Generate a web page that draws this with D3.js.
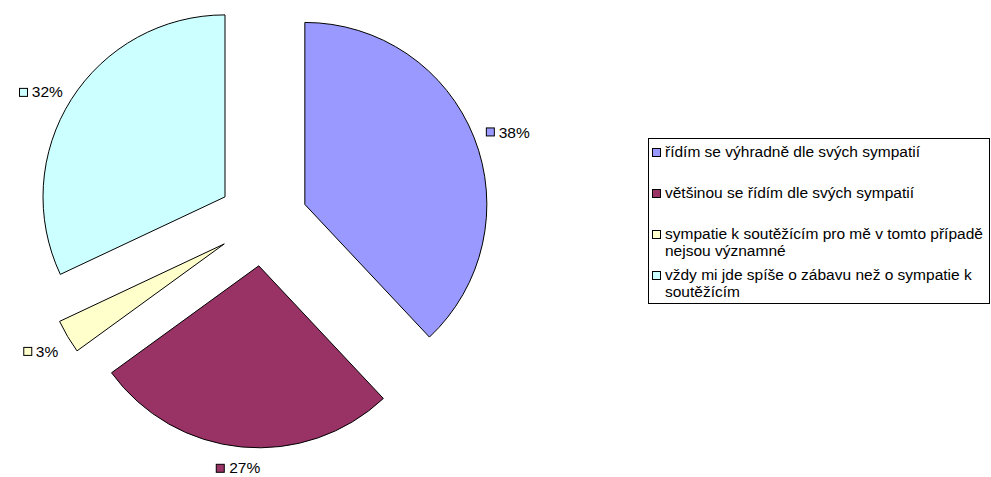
<!DOCTYPE html>
<html>
<head>
<meta charset="utf-8">
<script src="https://cdn.jsdelivr.net/npm/d3@7"></script>
<style>
  html, body { margin: 0; padding: 0; background: #fff; }
  svg { display: block; font-family: "Liberation Sans", Arial, sans-serif; }
</style>
</head>
<body>
<svg id="chart" width="991" height="477"></svg>
<script>
const categories = [
  "řídím se výhradně dle svých sympatií",
  "většinou se řídím dle svých sympatií",
  "sympatie k soutěžícím pro mě v tomto případě nejsou významné",
  "vždy mi jde spíše o zábavu než o sympatie k soutěžícím"
];
const values = [38, 27, 3, 32];
const colors = ["#9999FF", "#993366", "#FFFFCC", "#CCFFFF"];

const W = 991, H = 477;
const cx = 263, cy = 221, R = 182, explode = 45;
const labelFont = 15.5, legendFont = 15.5;

const svg = d3.select("#chart");
const total = d3.sum(values);
const fmt = d3.format(".0%");

const pie = d3.pie().sort(null).value(d => d)(values);
const arc = d3.arc().innerRadius(0).outerRadius(R);

const g = svg.append("g").attr("transform", `translate(${cx},${cy})`);

pie.forEach((p, i) => {
  const mid = (p.startAngle + p.endAngle) / 2;
  const sx = Math.sin(mid), sy = -Math.cos(mid);
  const ox = sx * explode, oy = sy * explode;
  const sg = g.append("g").attr("transform", `translate(${ox},${oy})`);
  sg.append("path")
    .attr("d", arc(p))
    .attr("fill", colors[i])
    .attr("stroke", "#000")
    .attr("stroke-width", 1)
    .attr("stroke-linejoin", "round");

  // label
  const lab = sg.append("g");
  const txt = lab.append("text")
    .attr("font-size", labelFont)
    .attr("fill", "#000")
    .attr("dominant-baseline", "central")
    .text(fmt(values[i] / total));
  const tw = txt.node().getComputedTextLength();
  const sq = 9, gap = 4;
  const bw = sq + gap + tw, bh = 18;
  const base = R + 12;
  const bcx = sx * base + sx * bw / 2 * 1.1;
  const bcy = sy * base + (sy > 0 ? bh / 2 : -1);
  const left = bcx - bw / 2;
  lab.insert("rect", "text")
    .attr("x", Math.round(left) + 0.5)
    .attr("y", Math.round(bcy - sq / 2) + 0.5)
    .attr("width", sq - 1).attr("height", sq - 1)
    .attr("fill", colors[i]).attr("stroke", "#000").attr("stroke-width", 1);
  txt.attr("x", left + sq + gap).attr("y", bcy);
});

// Legend
const lgX = 648, lgY = 138, lgW = 342, lgH = 166;
const lg = svg.append("g");
lg.append("rect")
  .attr("x", lgX + 0.5).attr("y", lgY + 0.5)
  .attr("width", lgW - 1).attr("height", lgH - 1)
  .attr("fill", "#fff").attr("stroke", "#000").attr("stroke-width", 1);

const textX = lgX + 17;
const maxW = lgX + lgW - textX - 1;
const step = 41, first = 13.5, lineH = 17;

function wrapLines(str) {
  const words = str.split(" ");
  const probe = lg.append("text").attr("font-size", legendFont);
  const lines = [];
  let cur = "";
  words.forEach(w => {
    const t = cur ? cur + " " + w : w;
    probe.text(t);
    if (probe.node().getComputedTextLength() > maxW && cur) {
      lines.push(cur); cur = w;
    } else cur = t;
  });
  if (cur) lines.push(cur);
  probe.remove();
  return lines;
}

categories.forEach((c, i) => {
  const y0 = lgY + first + i * step;
  lg.append("rect")
    .attr("x", lgX + 4.5).attr("y", Math.round(y0 - 4) + 0.5)
    .attr("width", 8).attr("height", 8)
    .attr("fill", colors[i]).attr("stroke", "#000").attr("stroke-width", 1);
  const lines = wrapLines(c);
  const t = lg.append("text")
    .attr("font-size", legendFont)
    .attr("fill", "#000");
  lines.forEach((ln, k) => {
    t.append("tspan")
      .attr("x", textX)
      .attr("y", y0 + k * lineH)
      .attr("dominant-baseline", "central")
      .text(ln);
  });
});
</script>
</body>
</html>
